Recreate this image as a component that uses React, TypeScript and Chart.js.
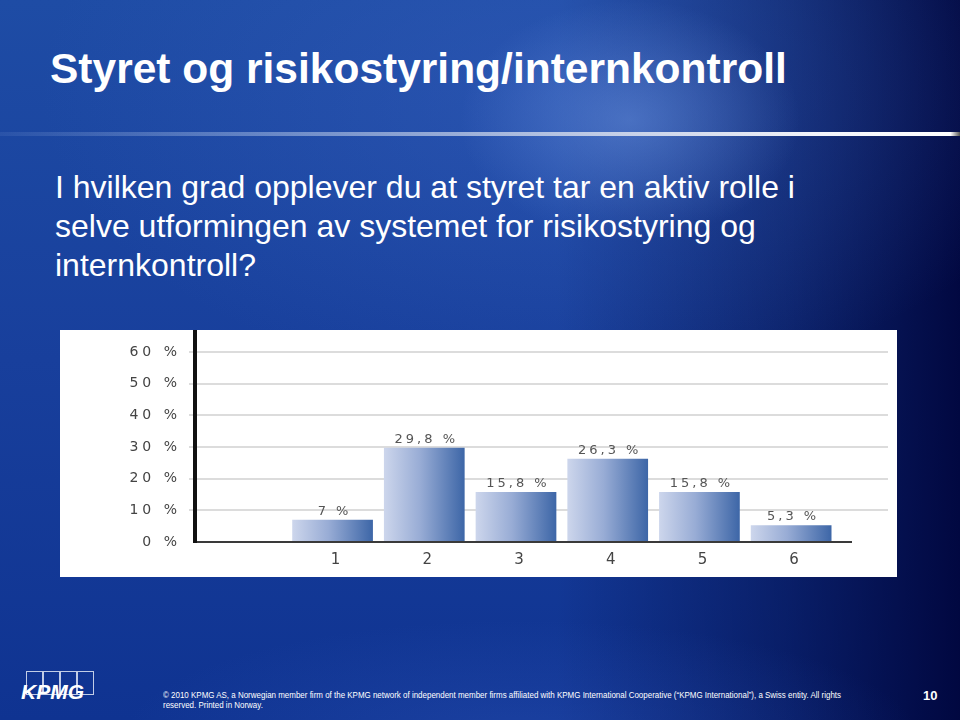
import React, { useEffect, useRef } from "react";
import { Chart, registerables } from "chart.js";

Chart.register(...registerables);

const categories: string[] = ["", "1", "2", "3", "4", "5", "6"];
const shares: (number | null)[] = [null, 7, 29.8, 15.8, 26.3, 15.8, 5.3];
const yMin = 0;
const yMax = 60;
const yStep = 10;

const titleText = "Styret og risikostyring/internkontroll";
const questionLines = [
  "I hvilken grad opplever du at styret tar en aktiv rolle i",
  "selve utformingen av systemet for risikostyring og",
  "internkontroll?",
];
const footerLines = [
  "© 2010 KPMG AS, a Norwegian member firm of the KPMG network of independent member firms affiliated with KPMG International Cooperative (“KPMG International”), a Swiss entity. All rights",
  "reserved. Printed in Norway.",
];
const pageNumber = "10";

const BAR_PCT = 0.88;

const fmtPct = (v: number) => `${String(v).replace(".", ",")} %`;

const decorPlugin = {
  id: "decor",
  beforeDraw(chart: any) {
    chart.ctx.letterSpacing = "4px";
  },
  beforeDatasetsDraw(chart: any) {
    const { ctx, chartArea } = chart;
    const y = chart.scales.y;
    ctx.save();
    ctx.strokeStyle = "#dcdcdc";
    ctx.lineWidth = 2;
    y.ticks.forEach((t: any) => {
      if (t.value === 0) return;
      const py = Math.round(y.getPixelForValue(t.value));
      ctx.beginPath();
      ctx.moveTo(chartArea.left - 6, py);
      ctx.lineTo(chartArea.right + 51, py);
      ctx.stroke();
    });
    ctx.restore();
  },
  afterDatasetsDraw(chart: any) {
    const { ctx, chartArea } = chart;
    ctx.save();
    ctx.strokeStyle = "#3a3a3a";
    ctx.lineWidth = 2;
    ctx.beginPath();
    ctx.moveTo(chartArea.left, chartArea.bottom);
    ctx.lineTo(chartArea.right + 15, chartArea.bottom);
    ctx.stroke();
    ctx.strokeStyle = "#111111";
    ctx.lineWidth = 4;
    ctx.beginPath();
    ctx.moveTo(chartArea.left, 0);
    ctx.lineTo(chartArea.left, chartArea.bottom + 1);
    ctx.stroke();
    const meta = chart.getDatasetMeta(0);
    ctx.letterSpacing = "3px";
    ctx.font = '13px "DejaVu Sans"';
    ctx.fillStyle = "#555555";
    ctx.textAlign = "center";
    ctx.textBaseline = "bottom";
    meta.data.forEach((bar: any, i: number) => {
      const v = shares[i];
      if (v == null) return;
      ctx.fillText(fmtPct(v), bar.x + 2, bar.y - 2);
    });
    ctx.restore();
  },
};

function BarChart() {
  const ref = useRef<HTMLCanvasElement | null>(null);
  useEffect(() => {
    if (!ref.current) return;
    const chart = new Chart(ref.current, {
      type: "bar",
      data: {
        labels: categories,
        datasets: [
          {
            data: shares as any,
            barPercentage: BAR_PCT,
            categoryPercentage: 1,
            borderWidth: 0,
            backgroundColor: (c: any) => {
              const ch = c.chart;
              const xs = ch.scales?.x;
              if (!xs || !ch.chartArea) return "#7f97c8";
              const cx = xs.getPixelForValue(c.dataIndex);
              const half = ((xs.right - xs.left) / categories.length) * BAR_PCT / 2;
              const g = ch.ctx.createLinearGradient(cx - half, 0, cx + half, 0);
              g.addColorStop(0, "#cdd6ec");
              g.addColorStop(0.45, "#98acd5");
              g.addColorStop(1, "#3d66a7");
              return g;
            },
          },
        ],
      },
      options: {
        animation: false,
        responsive: false,
        maintainAspectRatio: false,
        events: [],
        layout: { padding: { top: 22, right: 60, bottom: 0, left: 0 } },
        plugins: { legend: { display: false }, tooltip: { enabled: false }, title: { display: false } },
        scales: {
          x: {
            grid: { display: false },
            border: { display: false },
            ticks: {
              autoSkip: false,
              maxRotation: 0,
              padding: 1,
              labelOffset: 5,
              color: "#444444",
              font: { family: "DejaVu Sans", size: 15 },
            },
            afterFit: (s: any) => {
              s.height = 35;
            },
          },
          y: {
            min: yMin,
            max: yMax,
            grid: { display: false },
            border: { display: false },
            ticks: {
              stepSize: yStep,
              padding: 6,
              color: "#444444",
              font: { family: "DejaVu Sans", size: 14 },
              callback: (v: any) => `${v} %`,
            },
            afterFit: (s: any) => {
              s.width = 135;
            },
          },
        },
      },
      plugins: [decorPlugin],
    });
    return () => chart.destroy();
  }, []);
  return <canvas ref={ref} width={837} height={247} style={{ display: "block", width: 837, height: 247 }} />;
}

export default function App() {
  const white = "#ffffff";
  return (
    <div
      style={{
        position: "fixed",
        left: 0,
        top: 0,
        width: 960,
        height: 720,
        overflow: "hidden",
        fontFamily: '"Liberation Sans", Arial, sans-serif',
        background: [
          "radial-gradient(ellipse 170px 120px at 630px 120px, rgba(110,150,225,0.5), rgba(110,150,225,0) 100%)",
          "radial-gradient(ellipse 520px 300px at 560px 90px, rgba(60,100,195,0.4), rgba(60,100,195,0) 100%)",
          "radial-gradient(ellipse 400px 120px at 520px 740px, rgba(50,90,190,0.35), rgba(50,90,190,0) 100%)",
          "linear-gradient(90deg, rgba(0,5,55,0) 0%, rgba(0,5,55,0) 58%, rgba(0,6,60,0.5) 82%, rgba(0,5,60,0.95) 100%)",
          "linear-gradient(180deg, #1e4ca5 0%, #183f9c 50%, #0f3391 100%)",
        ].join(", "),
      }}
    >
      <div
        style={{
          position: "absolute",
          left: 50,
          top: 45,
          fontSize: 42.5,
          lineHeight: "48px",
          fontWeight: "bold",
          color: white,
          whiteSpace: "nowrap",
        }}
      >
        {titleText}
      </div>
      <div
        style={{
          position: "absolute",
          left: 0,
          top: 132,
          width: 960,
          height: 4,
          background:
            "linear-gradient(90deg, rgba(120,150,210,0.15) 0%, rgba(150,175,220,0.55) 25%, rgba(200,210,232,0.9) 60%, #f2f4fa 85%, #ffffff 99%, #555 100%)",
        }}
      />
      <div
        style={{
          position: "absolute",
          left: 55,
          top: 168,
          fontSize: 32,
          lineHeight: "39px",
          color: white,
          whiteSpace: "nowrap",
        }}
      >
        {questionLines.map((l, i) => (
          <div key={i}>{l}</div>
        ))}
      </div>
      <div
        style={{
          position: "absolute",
          left: 60,
          top: 330,
          width: 837,
          height: 247,
          background: "#ffffff",
        }}
      >
        <BarChart />
      </div>
      {[0, 1, 2, 3].map((i) => (
        <div
          key={i}
          style={{
            position: "absolute",
            left: 26 + i * 17,
            top: 671,
            width: 15,
            height: 22,
            border: "1px solid rgba(225,232,245,0.85)",
          }}
        />
      ))}
      <div
        style={{
          position: "absolute",
          left: 21,
          top: 680,
          fontSize: 21,
          lineHeight: "24px",
          fontWeight: "bold",
          fontStyle: "italic",
          color: white,
        }}
      >
        KPMG
      </div>
      <div
        style={{
          position: "absolute",
          left: 163,
          top: 690,
          fontSize: 9,
          lineHeight: "10px",
          color: white,
          whiteSpace: "nowrap",
          transform: "scaleX(0.885)",
          transformOrigin: "0 0",
        }}
      >
        {footerLines.map((l, i) => (
          <div key={i}>{l}</div>
        ))}
      </div>
      <div
        style={{
          position: "absolute",
          left: 923,
          top: 688,
          fontSize: 13,
          lineHeight: "16px",
          fontWeight: "bold",
          color: white,
        }}
      >
        {pageNumber}
      </div>
    </div>
  );
}
